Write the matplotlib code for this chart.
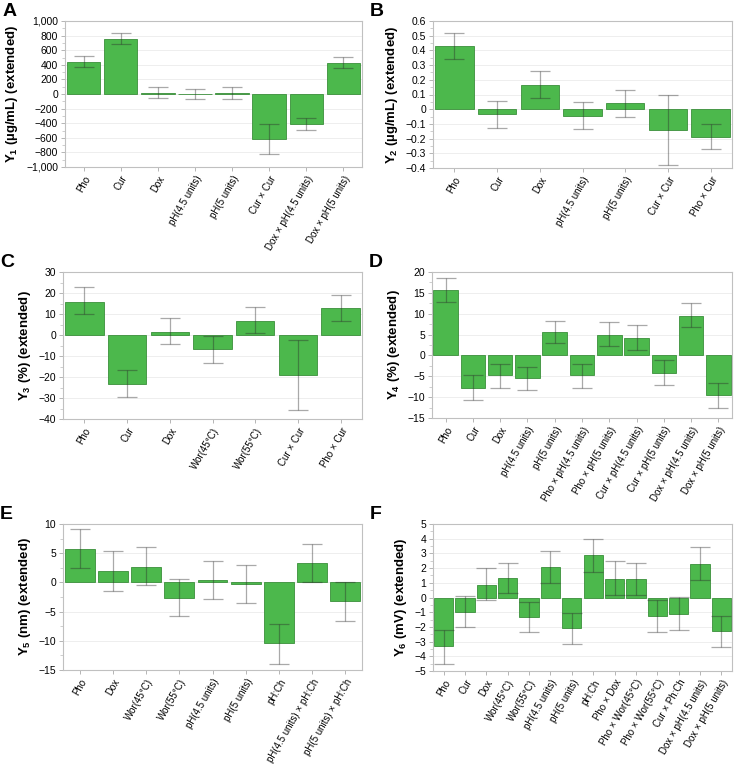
import numpy as np
import matplotlib
matplotlib.use("Agg")
import matplotlib.pyplot as plt
from matplotlib.ticker import MultipleLocator, FuncFormatter

plt.rcParams['font.family'] = ['Liberation Sans', 'DejaVu Sans']
plt.rcParams['mathtext.fontset'] = 'custom'
plt.rcParams['mathtext.rm'] = 'Liberation Sans'
plt.rcParams['mathtext.bf'] = 'Liberation Sans:bold'
plt.rcParams['mathtext.it'] = 'Liberation Sans:italic'
plt.rcParams['mathtext.bfit'] = 'Liberation Sans:bold:italic'

# ---- data ----
a_labels = ["Pho", "Cur", "Dox", "pH(4.5 units)", "pH(5 units)", "Cur × Cur",
            "Dox × pH(4.5 units)", "Dox × pH(5 units)"]
a_values = [436, 753, 12, 0, 12, -610, -415, 428]
a_low = [365, 685, -59, -73, -68, -828, -493, 352]
a_high = [520, 831, 91, 73, 91, -411, -333, 510]

b_labels = ["Pho", "Cur", "Dox", "pH(4.5 units)", "pH(5 units)", "Cur × Cur", "Pho × Cur"]
b_values = [0.428, -0.035, 0.168, -0.044, 0.039, -0.143, -0.186]
b_low = [0.34, -0.13, 0.078, -0.136, -0.053, -0.378, -0.27]
b_high = [0.52, 0.055, 0.26, 0.046, 0.129, 0.099, -0.099]

c_labels = ["Pho", "Cur", "Dox", "Wor(45°C)", "Wor(55°C)", "Cur × Cur", "Pho × Cur"]
c_values = [15.9, -23.2, 1.6, -6.7, 6.8, -19.0, 12.9]
c_low = [10.0, -29.4, -4.4, -13.2, 0.8, -35.8, 6.8]
c_high = [22.7, -16.7, 8.1, -0.6, 13.5, -2.4, 19.0]

d_labels = ["Pho", "Cur", "Dox", "pH(4.5 units)", "pH(5 units)", "Pho × pH(4.5 units)",
            "Pho × pH(5 units)", "Cur × pH(4.5 units)", "Cur × pH(5 units)",
            "Dox × pH(4.5 units)", "Dox × pH(5 units)"]
d_values = [15.6, -7.7, -4.8, -5.5, 5.6, -4.8, 5.0, 4.2, -4.1, 9.5, -9.4]
d_low = [12.7, -10.8, -7.7, -8.3, 3.0, -7.9, 2.2, 1.3, -7.1, 6.7, -12.5]
d_high = [18.6, -4.8, -2.0, -2.8, 8.3, -2.1, 8.0, 7.3, -1.2, 12.6, -6.6]

e_labels = ["Pho", "Dox", "Wor(45°C)", "Wor(55°C)", "pH(4.5 units)", "pH(5 units)", "pH:Ch",
            "pH(4.5 units) × pH:Ch", "pH(5 units) × pH:Ch"]
e_values = [5.75, 1.9, 2.7, -2.6, 0.35, -0.2, -10.45, 3.3, -3.1]
e_low = [2.5, -1.4, -0.5, -5.74, -2.8, -3.45, -13.9, 0.0, -6.6]
e_high = [9.1, 5.3, 6.0, 0.5, 3.6, 2.9, -7.07, 6.6, 0.0]

f_labels = ["Pho", "Cur", "Dox", "Wor(45°C)", "Wor(55°C)", "pH(4.5 units)", "pH(5 units)",
            "pH:Ch", "Pho × Dox", "Pho × Wor(45°C)", "Pho × Wor(55°C)", "Cur × Ph:Ch",
            "Dox × pH(4.5 units)", "Dox × pH(5 units)"]
f_values = [-3.31, -0.99, 0.88, 1.32, -1.32, 2.06, -2.1, 2.87, 1.27, 1.25, -1.27, -1.11, 2.29, -2.31]
f_low = [-4.49, -2.04, -0.19, 0.3, -2.38, 1.02, -3.19, 1.76, 0.19, 0.14, -2.38, -2.2, 1.16, -3.4]
f_high = [-2.22, 0.09, 1.99, 2.34, -0.28, 3.13, -1.06, 4.0, 2.45, 2.34, -0.14, 0.05, 3.43, -1.23]

BAR = "#4cb84c"
EDGE = "#3a8f3a"


def thousands(v, pos):
    if v == 0:
        return "0"
    s = f"{abs(v):,.0f}"
    return ("\u2212" if v < 0 else "") + s


def minus(fmt):
    def f(v, pos):
        if abs(v) < 1e-9:
            return "0"
        s = fmt.format(abs(v))
        return ("\u2212" if v < 0 else "") + s
    return f


def panel(rect, letter, labels, values, low, high, ylim, major, minor, ylabel, fmt):
    ax = fig.add_axes(rect)
    x = np.arange(len(labels))
    vals = np.array(values)
    err = np.vstack([vals - np.array(low), np.array(high) - vals])
    ax.bar(x, vals, width=0.9, color=BAR, edgecolor=EDGE, linewidth=0.6, zorder=2)
    ax.errorbar(x, vals, yerr=err, fmt='none', ecolor='#2a2a2a', alpha=0.4,
                elinewidth=0.9, capsize=7, capthick=0.9, zorder=3)
    ax.set_xlim(-0.5, len(labels) - 0.5)
    ax.set_ylim(*ylim)
    ax.yaxis.set_major_locator(MultipleLocator(major))
    ax.yaxis.set_minor_locator(MultipleLocator(minor))
    ax.yaxis.set_major_formatter(FuncFormatter(fmt))
    ax.grid(axis='y', which='major', color='#eeeeee', linewidth=0.7, zorder=0)
    ax.set_axisbelow(True)
    ax.set_xticks(x)
    ax.set_xticklabels(labels, rotation=60, ha='right', rotation_mode='anchor', fontsize=7)
    ax.tick_params(axis='y', labelsize=7.5, length=3, color='#aaaaaa', width=0.6, pad=2)
    ax.tick_params(axis='y', which='minor', length=2, color='#bbbbbb', width=0.5)
    ax.tick_params(axis='x', length=3, color='#aaaaaa', width=0.6, pad=2)
    for s in ax.spines.values():
        s.set_color('#c0c0c0')
        s.set_linewidth(0.8)
    ax.set_ylabel(ylabel, fontsize=9.5, fontweight='bold', labelpad=4)
    ax.text(-0.21, 1.12, letter, transform=ax.transAxes, fontsize=14, fontweight='bold',
            va='top', ha='left')
    return ax


fig = plt.figure(figsize=(7.34, 7.64), dpi=100)

W = 734.0
H = 764.0


def rect(l, t, r, b):
    return [l / W, 1 - b / H, (r - l) / W, (b - t) / H]


panel(rect(65, 21, 362, 167), "A", a_labels, a_values, a_low, a_high, (-1000, 1000), 200, 100,
      r"$\mathbf{Y}_{\mathbf{1}}$ (µg/mL) (extended)", thousands)
panel(rect(433, 21, 732, 168), "B", b_labels, b_values, b_low, b_high, (-0.4, 0.6), 0.1, 0.05,
      r"$\mathbf{Y}_{\mathbf{2}}$ (µg/mL) (extended)", minus("{:.1f}"))
panel(rect(63, 272, 362, 419), "C", c_labels, c_values, c_low, c_high, (-40, 30), 10, 5,
      r"$\mathbf{Y}_{\mathbf{3}}$ (%) (extended)", minus("{:.0f}"))
panel(rect(432, 272, 732, 418), "D", d_labels, d_values, d_low, d_high, (-15, 20), 5, 2.5,
      r"$\mathbf{Y}_{\mathbf{4}}$ (%) (extended)", minus("{:.0f}"))
panel(rect(63, 524, 362, 670), "E", e_labels, e_values, e_low, e_high, (-15, 10), 5, 2.5,
      r"$\mathbf{Y}_{\mathbf{5}}$ (nm) (extended)", minus("{:.0f}"))
panel(rect(433, 524, 732, 671), "F", f_labels, f_values, f_low, f_high, (-5, 5), 1, 0.5,
      r"$\mathbf{Y}_{\mathbf{6}}$ (mV) (extended)", minus("{:.0f}"))

fig.savefig("out.png", dpi=100)
